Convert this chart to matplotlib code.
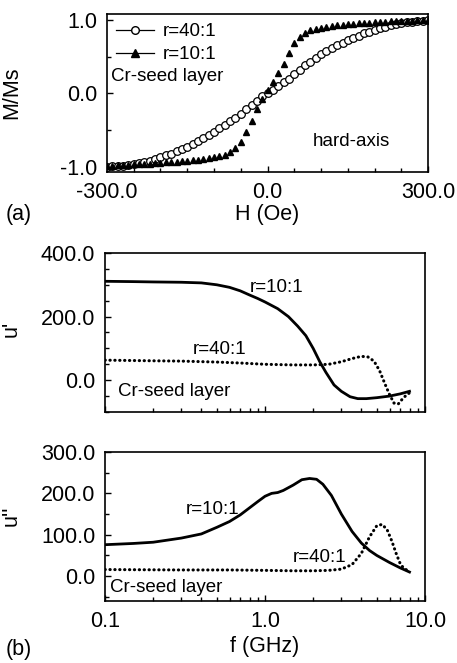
import matplotlib
matplotlib.use('Agg')
import matplotlib.pyplot as plt
import numpy as np
from matplotlib.lines import Line2D
from matplotlib.ticker import FixedLocator, MultipleLocator, FuncFormatter, LogLocator, NullFormatter

plt.rcParams['font.family'] = ['Liberation Sans', 'DejaVu Sans']

# (a) hard-axis loops, M/Ms vs H (Oe)
H = [-300, -290, -280, -270, -260, -250, -240, -230, -220, -210,
     -200, -190, -180, -170, -160, -150, -140, -130, -120, -110,
     -100, -90, -80, -70, -60, -50, -40, -30, -20, -10,
     0, 10, 20, 30, 40, 50, 60, 70, 80, 90,
     100, 110, 120, 130, 140, 150, 160, 170, 180, 190,
     200, 210, 220, 230, 240, 250, 260, 270, 280, 290, 300]
M_40 = [-1.00, -0.995, -0.99, -0.985, -0.975, -0.965, -0.95, -0.935, -0.915, -0.895,
        -0.87, -0.845, -0.82, -0.79, -0.76, -0.725, -0.69, -0.65, -0.61, -0.565,
        -0.52, -0.475, -0.43, -0.38, -0.33, -0.28, -0.22, -0.16, -0.10, -0.04,
        0.01, 0.05, 0.10, 0.15, 0.20, 0.26, 0.32, 0.38, 0.43, 0.48,
        0.53, 0.575, 0.615, 0.655, 0.69, 0.725, 0.755, 0.785, 0.815, 0.84,
        0.865, 0.885, 0.905, 0.925, 0.94, 0.955, 0.965, 0.975, 0.985, 0.99, 1.00]
M_10 = [-0.99, -0.985, -0.98, -0.975, -0.97, -0.965, -0.96, -0.96, -0.955, -0.95,
        -0.945, -0.94, -0.935, -0.93, -0.925, -0.92, -0.91, -0.905, -0.895, -0.885,
        -0.87, -0.855, -0.835, -0.80, -0.75, -0.66, -0.53, -0.38, -0.22, -0.08,
        0.04, 0.15, 0.27, 0.40, 0.55, 0.68, 0.77, 0.82, 0.855, 0.875,
        0.89, 0.905, 0.915, 0.925, 0.935, 0.94, 0.945, 0.95, 0.955, 0.96,
        0.965, 0.97, 0.975, 0.978, 0.98, 0.985, 0.988, 0.99, 0.993, 0.996, 1.00]

# (b) permeability spectra
f_re10 = [0.1, 0.15, 0.2, 0.3, 0.4, 0.5, 0.6, 0.7, 0.8, 0.9, 1.0, 1.2, 1.4, 1.6,
          1.8, 2.0, 2.2, 2.4, 2.7, 3.0, 3.4, 3.8, 4.3, 5.0, 6.0, 7.0, 8.0]
u_re10 = [311, 310, 309, 308, 306, 300, 292, 281, 268, 257, 246, 225, 200, 170,
          140, 100, 58, 25, -15, -35, -52, -58, -58, -55, -50, -43, -35]
f_re40 = [0.1, 0.2, 0.3, 0.5, 0.7, 1.0, 1.5, 2.0, 2.5, 3.0, 3.5, 4.0, 4.4, 4.8,
          5.2, 5.6, 6.0, 6.4, 6.8, 7.2, 7.6, 8.0]
u_re40 = [63, 61, 60, 57, 54, 50, 48, 48, 50, 58, 68, 75, 73, 60,
          30, -10, -45, -72, -75, -60, -48, -40]
f_im10 = [0.1, 0.15, 0.2, 0.3, 0.4, 0.5, 0.6, 0.7, 0.8, 0.9, 1.0, 1.1, 1.2, 1.3,
          1.5, 1.7, 1.9, 2.1, 2.3, 2.6, 3.0, 3.5, 4.0, 4.5, 5.0, 6.0, 7.0, 8.0]
u_im10 = [76, 79, 82, 92, 102, 118, 132, 148, 165, 180, 193, 200, 202, 207,
          220, 233, 236, 234, 222, 195, 150, 108, 80, 62, 50, 33, 20, 10]
f_im40 = [0.1, 0.3, 0.6, 1.0, 1.5, 2.0, 2.5, 3.0, 3.5, 4.0, 4.5, 5.0, 5.4, 5.8,
          6.2, 6.6, 7.0, 7.4, 8.0]
u_im40 = [16, 15, 15, 14, 13, 13, 14, 17, 28, 55, 95, 122, 125, 112,
          85, 55, 30, 18, 12]

fs = 15.5
fs_txt = 13.5
dots = (0, (0.1, 1.5))
fig = plt.figure(figsize=(4.57, 6.63), dpi=100)

def style(ax):
    ax.tick_params(which='both', direction='in', labelsize=fs, top=False, right=False, pad=7)
    ax.tick_params(which='major', length=4, width=1)
    ax.tick_params(which='minor', length=3, width=1)
    for s in ax.spines.values():
        s.set_linewidth(1.2)

fmt1 = FuncFormatter(lambda v, p: '%.1f' % v)

# ---- panel (a)
ax = fig.add_axes([0.234, 0.7406, 0.703, 0.2384])
ax.plot(H, M_40, 'o', mfc='white', mec='black', ms=5.5, mew=0.9)
ax.plot(H, M_10, '^', color='black', ms=5)
ax.set_xlim(-300, 300)
ax.set_ylim(-1.07, 1.08)
ax.xaxis.set_major_locator(FixedLocator([-300, 0, 300]))
ax.xaxis.set_minor_locator(MultipleLocator(50))
ax.yaxis.set_major_locator(FixedLocator([-1, 0, 1]))
ax.yaxis.set_minor_locator(MultipleLocator(0.5))
ax.xaxis.set_major_formatter(fmt1)
ax.yaxis.set_major_formatter(fmt1)
style(ax)
ax.set_ylabel('M/Ms', fontsize=fs)
ax.yaxis.set_label_coords(-0.265, 0.5)
ax.set_xlabel('H (Oe)', fontsize=fs, labelpad=1)
h1 = Line2D([], [], color='black', lw=0.9, marker='o', mfc='white', mec='black', ms=5.5)
h2 = Line2D([], [], color='black', lw=0.9, marker='^', ms=5.5)
ax.legend([h1, h2], ['r=40:1', 'r=10:1'], loc='upper left', frameon=False,
          fontsize=fs_txt, handlelength=2.0, borderaxespad=0.1, labelspacing=0.3,
          handletextpad=0.5)
ax.text(-293, 0.235, 'Cr-seed layer', fontsize=fs_txt, va='center', ha='left')
ax.text(85, -0.65, 'hard-axis', fontsize=fs_txt, va='center', ha='left')
fig.text(0.012, 0.676, '(a)', fontsize=fs, va='center')

# ---- panel (b) top: u'
ax1 = fig.add_axes([0.2298, 0.3786, 0.7002, 0.2398])
ax1.plot(f_re10, u_re10, '-', color='black', lw=2.0)
ax1.plot(f_re40, u_re40, linestyle=dots, color='black', lw=2.2, dash_capstyle='round')
ax1.set_xscale('log')
ax1.set_xlim(0.1, 10)
ax1.set_ylim(-100, 400)
ax1.yaxis.set_major_locator(FixedLocator([0, 200, 400]))
ax1.yaxis.set_minor_locator(MultipleLocator(50))
ax1.yaxis.set_major_formatter(fmt1)
ax1.xaxis.set_major_locator(LogLocator(base=10))
ax1.xaxis.set_minor_locator(LogLocator(base=10, subs=np.arange(2, 10)))
ax1.xaxis.set_major_formatter(NullFormatter())
ax1.xaxis.set_minor_formatter(NullFormatter())
style(ax1)
ax1.set_ylabel("u'", fontsize=fs)
ax1.yaxis.set_label_coords(-0.26, 0.52)
ax1.text(0.8, 290, 'r=10:1', fontsize=fs_txt, va='center')
ax1.text(0.355, 95, 'r=40:1', fontsize=fs_txt, va='center')
ax1.text(0.12, -37, 'Cr-seed layer', fontsize=fs_txt, va='center')

# ---- panel (b) bottom: u''
ax2 = fig.add_axes([0.2298, 0.0935, 0.7002, 0.2248])
ax2.plot(f_im10, u_im10, '-', color='black', lw=2.0)
ax2.plot(f_im40, u_im40, linestyle=dots, color='black', lw=2.2, dash_capstyle='round')
ax2.set_xscale('log')
ax2.set_xlim(0.1, 10)
ax2.set_ylim(-60, 300)
ax2.yaxis.set_major_locator(FixedLocator([0, 100, 200, 300]))
ax2.yaxis.set_minor_locator(MultipleLocator(50))
ax2.yaxis.set_major_formatter(fmt1)
ax2.xaxis.set_major_locator(LogLocator(base=10))
ax2.xaxis.set_minor_locator(LogLocator(base=10, subs=np.arange(2, 10)))
ax2.xaxis.set_major_formatter(FuncFormatter(lambda v, p: '%.1f' % v))
ax2.xaxis.set_minor_formatter(NullFormatter())
style(ax2)
ax2.set_ylabel("u''", fontsize=fs)
ax2.yaxis.set_label_coords(-0.26, 0.57)
ax2.set_xlabel('f (GHz)', fontsize=fs, labelpad=3)
ax2.text(0.32, 160, 'r=10:1', fontsize=fs_txt, va='center')
ax2.text(1.5, 45, 'r=40:1', fontsize=fs_txt, va='center')
ax2.text(0.107, -27, 'Cr-seed layer', fontsize=fs_txt, va='center')
fig.text(0.012, 0.02, '(b)', fontsize=fs, va='center')

fig.savefig('out.png', dpi=100)
